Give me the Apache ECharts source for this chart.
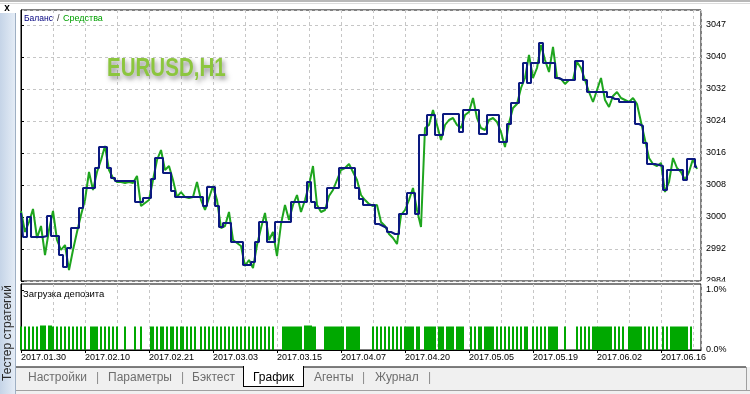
<!DOCTYPE html>
<html><head><meta charset="utf-8">
<script src="https://cdn.jsdelivr.net/npm/echarts@6/dist/echarts.min.js"></script>
<style>html,body{margin:0;padding:0;background:#fff;overflow:hidden}#c{width:750px;height:394px}</style>
</head><body><div id="c"></div>
<script>
// ---- data ----
const dateLabels = ['2017.01.30','2017.02.10','2017.02.21','2017.03.03','2017.03.15','2017.04.07','2017.04.20','2017.05.05','2017.05.19','2017.06.02','2017.06.16'];
const yTickLabels = ['2984','2992','3000','3008','3016','3024','3032','3040','3047'];
const loadTickLabels = ['0.0%','1.0%'];

const balance = [
 3001.0, 2995.0, 3000.0, 2995.0, 2995.0, 2995.0, 2995.25, 3000.25, 2995.25, 2995.25,
 2990.5, 2987.5, 2992.25, 2997.25, 2997.25, 3002.25, 3007.25, 3007.25, 3007.25, 3012.25,
 3017.5, 3017.5, 3012.25, 3009.75, 3009.0, 3009.0, 3009.0, 3009.0, 3009.0, 3003.75,
 3003.75, 3004.75, 3004.75, 3009.5, 3014.75, 3014.75, 3011.0, 3011.0, 3006.5, 3005.0,
 3005.0, 3005.0, 3005.0, 3005.0, 3005.0, 3005.0, 3002.75, 3007.5, 3007.5, 3002.75,
 2997.5, 2998.5, 2998.5, 2993.75, 2993.75, 2993.75, 2988.0, 2988.0, 2988.75, 2993.75,
 2998.75, 2998.75, 2993.75, 2993.75, 2998.75, 2998.75, 2998.75, 2998.75, 3003.75, 3003.75,
 3003.75, 3003.75, 3008.75, 3003.75, 3002.25, 3002.25, 3002.25, 3007.25, 3007.25, 3007.25,
 3012.25, 3012.25, 3012.25, 3012.25, 3007.25, 3004.5, 3003.0, 3003.0, 3003.0, 2998.25,
 2997.75, 2997.25, 2996.25, 2995.75, 2995.75, 3000.75, 3000.75, 3006.0, 3006.0, 3000.75,
 3020.5, 3020.5, 3025.5, 3025.5, 3020.5, 3020.5, 3025.75, 3025.75, 3025.75, 3025.75,
 3021.25, 3026.75, 3026.75, 3026.75, 3026.75, 3020.75, 3020.75, 3025.5, 3025.5, 3025.5,
 3018.75, 3018.75, 3023.25, 3028.5, 3028.5, 3033.5, 3038.5, 3033.5, 3038.5, 3038.5,
 3043.5, 3038.5, 3038.5, 3038.5, 3034.75, 3034.25, 3034.25, 3034.25, 3034.25, 3039.0,
 3039.0, 3034.25, 3031.25, 3031.25, 3031.25, 3031.25, 3031.25, 3030.0, 3029.5, 3029.5,
 3028.75, 3028.75, 3028.75, 3028.75, 3023.25, 3022.75, 3018.5, 3013.25, 3013.25, 3013.0,
 3012.75, 3006.75, 3011.75, 3011.75, 3011.75, 3011.75, 3009.25, 3014.5, 3014.5, 3012.5
];

const equity = [
 3001.5, 2996.25, 2998.75, 3002.0, 2994.75, 2997.75, 2990.5, 2996.75, 3001.5, 2994.25,
 2991.75, 2993.0, 2986.75, 2991.75, 2996.25, 3000.5, 3004.25, 3011.25, 3006.75, 3011.25,
 3014.25, 3017.75, 3011.75, 3009.75, 3008.75, 3008.75, 3008.5, 3008.75, 3008.5, 3010.25,
 3002.75, 3003.5, 3004.25, 3009.25, 3014.25, 3016.75, 3011.75, 3012.75, 3009.25, 3005.0,
 3006.25, 3005.0, 3004.75, 3005.0, 3008.75, 3004.25, 3001.75, 3004.75, 3007.75, 3004.25,
 2997.25, 2997.75, 3001.25, 2994.25, 2993.5, 2992.75, 2987.75, 2989.25, 2987.25, 2993.0,
 2997.25, 3001.0, 2994.25, 2996.25, 2990.25, 2998.25, 3003.0, 2999.25, 3003.0, 3005.5,
 3001.25, 3004.25, 3008.0, 3012.75, 3003.0, 3001.25, 3001.75, 3005.25, 3006.75, 3009.25,
 3011.75, 3012.25, 3013.25, 3011.25, 3009.25, 3005.5, 3004.25, 3003.25, 3002.75, 3003.0,
 2998.75, 2997.75, 2995.75, 2994.75, 2993.25, 3000.5, 3001.75, 3004.25, 3007.25, 3001.75,
 2997.5, 3022.25, 3023.0, 3026.75, 3023.0, 3019.25, 3023.0, 3024.25, 3024.75, 3023.0,
 3022.25, 3025.5, 3026.25, 3029.75, 3024.75, 3022.25, 3021.75, 3024.25, 3024.75, 3023.75,
 3021.25, 3017.5, 3023.5, 3027.25, 3028.25, 3032.25, 3034.75, 3040.5, 3034.75, 3037.25,
 3043.0, 3039.25, 3036.25, 3042.5, 3034.75, 3034.5, 3033.25, 3034.25, 3034.25, 3038.75,
 3037.25, 3034.25, 3031.25, 3028.75, 3031.75, 3034.75, 3029.25, 3027.5, 3030.25, 3031.25,
 3029.75, 3029.25, 3028.75, 3029.75, 3028.25, 3023.75, 3019.25, 3014.75, 3013.25, 3012.75,
 3013.5, 3006.25, 3008.75, 3014.75, 3012.25, 3011.25, 3009.25, 3011.25, 3014.5, 3012.0
];

const depositLoad = [
 0.39,0,0.39,0,0.39,0,0.39,0,0.39,0, 0.41,0.41,0.41,0,0.41,0.41, 0.39,0,0.39,0,
 0.39,0,0.39,0,0.39,0,0.39,0,0.39,0, 0.39,0,0.39,0,0,0.39,0.39,0.39,0.39,0,
 0.39,0,0.39,0,0.39,0,0.39,0,0.39,0, 0,0,0.39,0,0,0,0,0.39,0,0,
 0.39,0,0,0,0, 0.39,0.39,0,0.39,0, 0.39,0.39,0,0.39,0, 0.39,0.39,0,0.39,0,
 0.39,0.39,0,0.39,0,0.39,0,0.39,0,0, 0.39,0,0.39,0,0.39,0,0.39,0,0.39,0,
 0.39,0,0.39,0,0.39,0, 0.39,0,0.39,0,0.39,0,0.39,0,0.39,0,0.39, 0, 0.39,0,
 0.39,0,0.39,0,0.39,0,0.39, 0,0,0,0, 0.39,0.39,0.39,0.39,0.39,0.39,0.39,0.39,0.39,
 0.39,0,0.41,0.41,0.41,0.41,0.39,0.39, 0,0,0,0, 0.39,0.39,0.39,0.39,0.39,0.39,0.39,0.39,
 0.39,0.39,0, 0.39,0.39,0.39,0.39,0.39,0.39,0.39, 0,0,0,0,0,0, 0.39,0,0.39,0,
 0.39,0,0.39,0,0.39,0,0.39,0,0.39,0,0.39, 0, 0.39,0.39,0.39,0.39, 0.39,0,0.39,0.39,
 0,0, 0.39,0.39,0.39,0.39,0.39,0.39, 0, 0.39,0.39,0.39,0,0.39,0.39,0.39,0.39,0,0.39,0.39,
 0.39,0.39, 0,0,0, 0.39,0,0.39,0,0.39,0.39,0,0.39, 0.39,0.39,0.39,0.39, 0, 0.39,0,
 0.39,0,0.39,0,0.39, 0,0.39,0,0.39,0,0.39,0,0.39,0.39, 0,0, 0.39,0,0.39,0,
 0.39,0,0.39, 0, 0.39,0.39,0.39,0.39,0.39, 0,0,0, 0.39, 0,0,0,0,0, 0.39,0,
 0.39,0,0.39,0,0.39,0, 0.39,0.39,0.39,0.39,0.39,0.39,0.39,0.39,0.39,0.39, 0,0.39,0,0.39,
 0,0.39, 0,0, 0.39,0.39,0.39,0.39,0.39,0.39,0.39, 0, 0.39,0,0.39,0,0.39,0,0.39, 0,
 0,0.39,0,0.39,0,0.39, 0.39,0.39,0.39,0.39,0.39,0.39,0.39,0.39, 0, 0.39, 0,0,0,0
];

// ---- chart ----
const FONT = "'Liberation Sans', Arial, sans-serif";
const dash = {color:'#c6c6c6', type:[3,3], width:1};
const chart = echarts.init(document.getElementById('c'), null, {renderer:'canvas'});

const option = {
  animation: false,
  backgroundColor: '#ffffff',
  grid: [
    {left:21, top:10, width:680, height:271, show:true, borderColor:'#000', borderWidth:1, backgroundColor:'#fff'},
    {left:21, top:284, width:680, height:66, show:true, borderColor:'#000', borderWidth:1, backgroundColor:'#fff'}
  ],
  xAxis: [
    {gridIndex:0, type:'value', min:0, max:340, interval:16,
     axisLine:{show:false}, axisTick:{show:false}, axisLabel:{show:false},
     splitLine:{show:true, lineStyle:dash}},
    {gridIndex:1, type:'value', min:0, max:340, interval:32, position:'bottom',
     axisLine:{show:true, lineStyle:{color:'#000', width:1}},
     axisTick:{show:true, length:3, lineStyle:{color:'#000'}},
     axisLabel:{show:true, align:'left', margin:3, color:'#000', fontSize:9, fontFamily:FONT,
       showMaxLabel:false,
       formatter: v => { const k = v/32; return (Number.isInteger(k) && k < dateLabels.length) ? dateLabels[k] : ''; }},
     splitLine:{show:false}},
    {gridIndex:1, type:'value', min:0, max:340, interval:16, position:'top',
     axisLine:{show:false}, axisTick:{show:false}, axisLabel:{show:false},
     splitLine:{show:true, lineStyle:dash}}
  ],
  yAxis: [
    {gridIndex:0, type:'value', position:'right', min:2984, max:3051.75, interval:8,
     axisLine:{show:true, lineStyle:{color:'#000'}},
     axisTick:{show:true, length:3, lineStyle:{color:'#000'}},
     axisLabel:{show:true, margin:5, color:'#000', fontSize:9, fontFamily:FONT, showMaxLabel:false,
       formatter: v => { const k = Math.round((v-2984)/8); return (Math.abs((v-2984)/8 - k) < 1e-6 && k < yTickLabels.length) ? yTickLabels[k] : ''; }},
     splitLine:{show:true, lineStyle:dash}},
    {gridIndex:1, type:'value', position:'right', min:0, max:1.1, interval:1,
     axisLine:{show:true, lineStyle:{color:'#000'}},
     axisTick:{show:true, length:3, lineStyle:{color:'#000'}},
     axisLabel:{show:true, margin:5, color:'#000', fontSize:9, fontFamily:FONT, showMaxLabel:false,
       formatter: v => (Number.isInteger(v) && v < loadTickLabels.length) ? loadTickLabels[v] : ''},
     splitLine:{show:false}}
  ],
  series: [
    {name:'Средства', type:'line', xAxisIndex:0, yAxisIndex:0, showSymbol:false, symbol:'none',
     data: equity.map((v,i)=>[i*2, v]),
     lineStyle:{color:'#1ea51e', width:2}, z:2},
    {name:'Баланс', type:'line', xAxisIndex:0, yAxisIndex:0, showSymbol:false, symbol:'none', step:'middle',
     data: balance.map((v,i)=>[i*2, v]),
     lineStyle:{color:'#0c1a80', width:2}, z:3},
    {name:'Загрузка депозита', type:'bar', xAxisIndex:1, yAxisIndex:1, barWidth:2,
     data: depositLoad.map((v,j)=>[j, v]),
     itemStyle:{color:'#00a800'}, z:2}
  ],
  graphic: [
    // top frame lines
    {type:'rect', shape:{x:0,y:0,width:750,height:2}, style:{fill:'#b8b8b8'}, z:10},
    {type:'rect', shape:{x:0,y:3,width:750,height:1}, style:{fill:'#dcdcdc'}, z:10},
    // left strip
    {type:'rect', shape:{x:0,y:13,width:15,height:381},
     style:{fill:new echarts.graphic.LinearGradient(0,0,1,0,[{offset:0,color:'#c5d4e7'},{offset:1,color:'#e4ecf6'}])}, z:10},
    {type:'rect', shape:{x:15,y:13,width:1,height:381}, style:{fill:'#9fb0c4'}, z:10},
    {type:'text', x:7, y:8, style:{text:'x', font:'bold 10px '+FONT, fill:'#000', align:'center', verticalAlign:'middle'}, z:10},
    {type:'text', x:8, y:333, rotation:Math.PI/2,
     style:{text:'Тестер стратегий', font:'12px '+FONT, fill:'#2a2a2a', align:'center', verticalAlign:'middle'}, z:10},
    // legend
    {type:'text', x:24, y:19, style:{text:'Баланс', font:'8.5px '+FONT, fill:'#00007f', verticalAlign:'middle'}, z:10},
    {type:'text', x:57, y:19, style:{text:'/', font:'9px '+FONT, fill:'#333', verticalAlign:'middle'}, z:10},
    {type:'text', x:63, y:19, style:{text:'Средства', font:'9px '+FONT, fill:'#00a000', verticalAlign:'middle'}, z:10},
    // watermark
    {type:'text', x:107, y:69, scaleX:0.79,
     style:{text:'EURUSD,H1', font:"bold 26px 'Liberation Sans Narrow', Arial, sans-serif",
       fill:'#8cc63e', verticalAlign:'middle',
       shadowColor:'rgba(40,40,40,0.55)', shadowBlur:5, shadowOffsetX:2, shadowOffsetY:3,
       textShadowColor:'rgba(40,40,40,0.55)', textShadowBlur:5, textShadowOffsetX:2, textShadowOffsetY:3}, z:1},
    // lower panel title
    {type:'text', x:23, y:294, style:{text:'Загрузка депозита', font:'9.5px '+FONT, fill:'#000', verticalAlign:'middle'}, z:10},
    // cover bottom part of the 2984 label
    {type:'rect', shape:{x:703,y:281.5,width:40,height:3}, style:{fill:'#fff'}, z:50},
    // tab bar
    {type:'rect', shape:{x:16,y:367,width:734,height:27}, style:{fill:'#f0f0f0'}, z:10},
    {type:'rect', shape:{x:16,y:366.5,width:227,height:1}, style:{fill:'#000'}, z:11},
    {type:'rect', shape:{x:303,y:366.5,width:443,height:1}, style:{fill:'#000'}, z:11},
    {type:'rect', shape:{x:243,y:366,width:60,height:20}, style:{fill:'#fff'}, z:11},
    {type:'rect', shape:{x:243,y:366,width:1,height:21}, style:{fill:'#000'}, z:12},
    {type:'rect', shape:{x:303,y:366,width:1,height:21}, style:{fill:'#000'}, z:12},
    {type:'rect', shape:{x:243,y:386,width:61,height:1}, style:{fill:'#000'}, z:12},
    {type:'rect', shape:{x:746,y:367,width:1,height:24}, style:{fill:'#a0a0a0'}, z:12},
    {type:'rect', shape:{x:16,y:390,width:734,height:1}, style:{fill:'#a0a0a0'}, z:12},
    {type:'text', x:28, y:378, style:{text:'Настройки', font:'12px '+FONT, fill:'#6e6e6e', verticalAlign:'middle'}, z:13},
    {type:'text', x:96, y:378, style:{text:'|', font:'12px '+FONT, fill:'#8a8a8a', verticalAlign:'middle'}, z:13},
    {type:'text', x:108, y:378, style:{text:'Параметры', font:'12px '+FONT, fill:'#6e6e6e', verticalAlign:'middle'}, z:13},
    {type:'text', x:181, y:378, style:{text:'|', font:'12px '+FONT, fill:'#8a8a8a', verticalAlign:'middle'}, z:13},
    {type:'text', x:192, y:378, style:{text:'Бэктест', font:'12px '+FONT, fill:'#6e6e6e', verticalAlign:'middle'}, z:13},
    {type:'text', x:253, y:378, style:{text:'График', font:'12px '+FONT, fill:'#000', verticalAlign:'middle'}, z:13},
    {type:'text', x:314, y:378, style:{text:'Агенты', font:'12px '+FONT, fill:'#6e6e6e', verticalAlign:'middle'}, z:13},
    {type:'text', x:362, y:378, style:{text:'|', font:'12px '+FONT, fill:'#8a8a8a', verticalAlign:'middle'}, z:13},
    {type:'text', x:375, y:378, style:{text:'Журнал', font:'12px '+FONT, fill:'#6e6e6e', verticalAlign:'middle'}, z:13},
    {type:'text', x:428, y:378, style:{text:'|', font:'12px '+FONT, fill:'#8a8a8a', verticalAlign:'middle'}, z:13}
  ]
};
chart.setOption(option);
</script>
</body></html>
